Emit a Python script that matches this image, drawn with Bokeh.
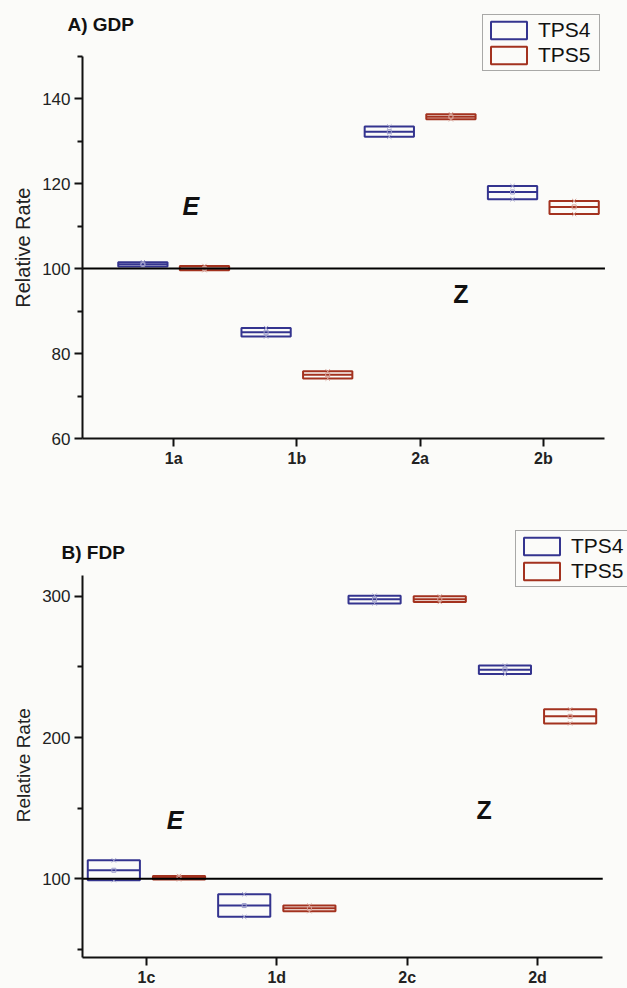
from bokeh.plotting import figure
from bokeh.models import FixedTicker, Legend, LegendItem, ColumnDataSource, Range1d
from bokeh.layouts import column
from bokeh.embed import file_html
from bokeh.resources import INLINE
from bokeh.core.properties import value

# ---------------- data ----------------
cats_top = ["1a", "1b", "2a", "2b"]
tps4_top_lo = [100.5, 84.0, 131.0, 116.3]
tps4_top_med = [101.0, 85.0, 132.2, 118.0]
tps4_top_hi = [101.5, 86.0, 133.4, 119.4]
tps5_top_lo = [99.6, 74.1, 135.1, 112.8]
tps5_top_med = [100.0, 75.0, 135.7, 114.5]
tps5_top_hi = [100.6, 75.8, 136.3, 115.9]

cats_bot = ["1c", "1d", "2c", "2d"]
tps4_bot_lo = [99.0, 73.0, 295.0, 245.0]
tps4_bot_med = [106.0, 81.0, 298.0, 248.0]
tps4_bot_hi = [113.0, 89.0, 300.5, 251.0]
tps5_bot_lo = [99.5, 77.0, 296.0, 210.0]
tps5_bot_med = [101.0, 79.0, 298.0, 215.0]
tps5_bot_hi = [102.0, 81.0, 300.0, 220.0]

series_names = ["TPS4", "TPS5"]
reference_level = 100
y_label = "Relative Rate"

# ---------------- style ----------------
BG = "#fbfbf9"
C4 = "#34348f"
C5 = "#a3321f"
C4L = "#a0a0cc"
C5L = "#d6a096"
FONT = "Liberation Sans"
BOX_W = 0.4
OFFS = 0.25
NBSP = "\u00a0"


def make_panel(title, cats, s4, s5, xr, x_bounds, yr, y_bounds, yticks, yminor,
               height, bt, bb, t_off, t_stand, leg_loc, notes, ylab_size, ylab_pad):
    p = figure(width=627, height=height, x_range=Range1d(*xr), y_range=Range1d(*yr),
               output_backend="svg", toolbar_location=None,
               min_border_left=82, min_border_right=0, min_border_top=bt,
               min_border_bottom=bb)
    p.background_fill_color = BG
    p.border_fill_color = BG
    p.outline_line_color = None
    p.grid.grid_line_color = None

    p.title.text = title
    p.title.text_font = FONT
    p.title.text_font_style = "bold"
    p.title.text_font_size = "19px"
    p.title.text_color = "#111111"
    p.title.align = "left"
    p.title.offset = t_off
    p.title.standoff = t_stand

    renderers = []
    for (lo, med, hi, col, lcol, off) in [(*s4, C4, C4L, -OFFS), (*s5, C5, C5L, OFFS)]:
        xs = [i + 1 + off for i in range(len(cats))]
        src = ColumnDataSource(dict(x=xs, lo=lo, med=med, hi=hi,
                                    x0=[x - BOX_W / 2 for x in xs],
                                    x1=[x + BOX_W / 2 for x in xs]))
        r = p.vbar(x="x", width=BOX_W, bottom="lo", top="hi", source=src,
                   fill_color=None, line_color=col, line_width=2)
        p.segment(x0="x0", x1="x1", y0="med", y1="med", source=src,
                  line_color=col, line_width=2)
        p.scatter(x="x", y="lo", source=src, marker="x", size=6,
                  line_color=lcol, line_width=1)
        p.scatter(x="x", y="hi", source=src, marker="x", size=6,
                  line_color=lcol, line_width=1)
        p.scatter(x="x", y="med", source=src, marker="square", size=4,
                  line_color=lcol, fill_color=None, line_width=1)
        renderers.append(r)

    # reference line at 100 spanning the x axis
    p.segment(x0=[x_bounds[0]], x1=[x_bounds[1]], y0=[reference_level],
              y1=[reference_level], line_color="black", line_width=2)

    for (tx, ty, tt, style) in notes:
        p.text(x=[tx], y=[ty], text=[tt], text_font=value(FONT),
               text_font_style=style, text_font_size="25px",
               text_align="center", text_baseline="middle", text_color="#111111")

    for ax in (p.xaxis[0], p.yaxis[0]):
        ax.axis_line_width = 2
        ax.axis_line_color = "#111111"
        ax.major_tick_line_width = 2
        ax.major_tick_line_color = "#111111"
        ax.major_tick_in = 0
        ax.major_tick_out = 8
        ax.minor_tick_in = 0
        ax.minor_tick_out = 5
        ax.minor_tick_line_width = 2
        ax.minor_tick_line_color = "#111111"
        ax.major_label_text_font = FONT
        ax.major_label_text_color = "#222222"

    xa = p.xaxis[0]
    xa.bounds = x_bounds
    xa.ticker = FixedTicker(ticks=[1, 2, 3, 4])
    xa.major_label_overrides = {i + 1: c for i, c in enumerate(cats)}
    xa.minor_tick_line_color = None
    xa.major_label_text_font_style = "bold"
    xa.major_label_text_font_size = "16px"
    xa.major_label_standoff = 3

    ya = p.yaxis[0]
    ya.bounds = y_bounds
    ya.ticker = FixedTicker(ticks=yticks, minor_ticks=yminor)
    ya.major_label_text_font_size = "17px"
    ya.major_label_standoff = 4
    # trailing no-break spaces keep the label centred on the drawn axis span
    ya.axis_label = y_label + NBSP * ylab_pad
    ya.axis_label_text_font = FONT
    ya.axis_label_text_font_style = "normal"
    ya.axis_label_text_font_size = ylab_size
    ya.axis_label_text_color = "#222222"
    ya.axis_label_standoff = 5

    legend = Legend(items=[LegendItem(label=series_names[0], renderers=[renderers[0]]),
                           LegendItem(label=series_names[1], renderers=[renderers[1]])],
                    location=leg_loc)
    legend.label_text_font = FONT
    legend.label_text_font_size = "21px"
    legend.label_text_color = "#111111"
    legend.glyph_width = 45
    legend.glyph_height = 22
    legend.label_height = 22
    legend.label_width = 58
    legend.spacing = 1
    legend.padding = 3
    legend.margin = 0
    legend.label_standoff = 7
    legend.border_line_color = "#555555"
    legend.border_line_width = 1
    legend.background_fill_color = BG
    legend.background_fill_alpha = 1
    p.add_layout(legend)
    return p


p1 = make_panel("A) GDP", cats_top,
                (tps4_top_lo, tps4_top_med, tps4_top_hi),
                (tps5_top_lo, tps5_top_med, tps5_top_hi),
                (0.26, 4.683), (0.26, 4.5), (60, 160.24), (60, 150),
                [60, 80, 100, 120, 140], [70, 90, 110, 130, 150],
                470, 12, 32, -15, -45, (400, 367),
                [(1.14, 114.8, "E", "bold italic"), (3.33, 94.1, "Z", "bold")],
                "20px", 8)

p2 = make_panel("B)  FDP", cats_bot,
                (tps4_bot_lo, tps4_bot_med, tps4_bot_hi),
                (tps5_bot_lo, tps5_bot_med, tps5_bot_hi),
                (0.5096, 4.69), (0.5096, 4.5), (44.2, 350.2), (44.2, 314.8),
                [100, 200, 300], [50, 150, 250],
                518, 55, 30, -21, -75, (433, 370),
                [(1.22, 141.5, "E", "bold italic"), (3.59, 148.6, "Z", "bold")],
                "19px", 9)

layout = column(p1, p2, spacing=0)
layout.background = BG
open("out.html", "w").write(file_html(layout, INLINE))
